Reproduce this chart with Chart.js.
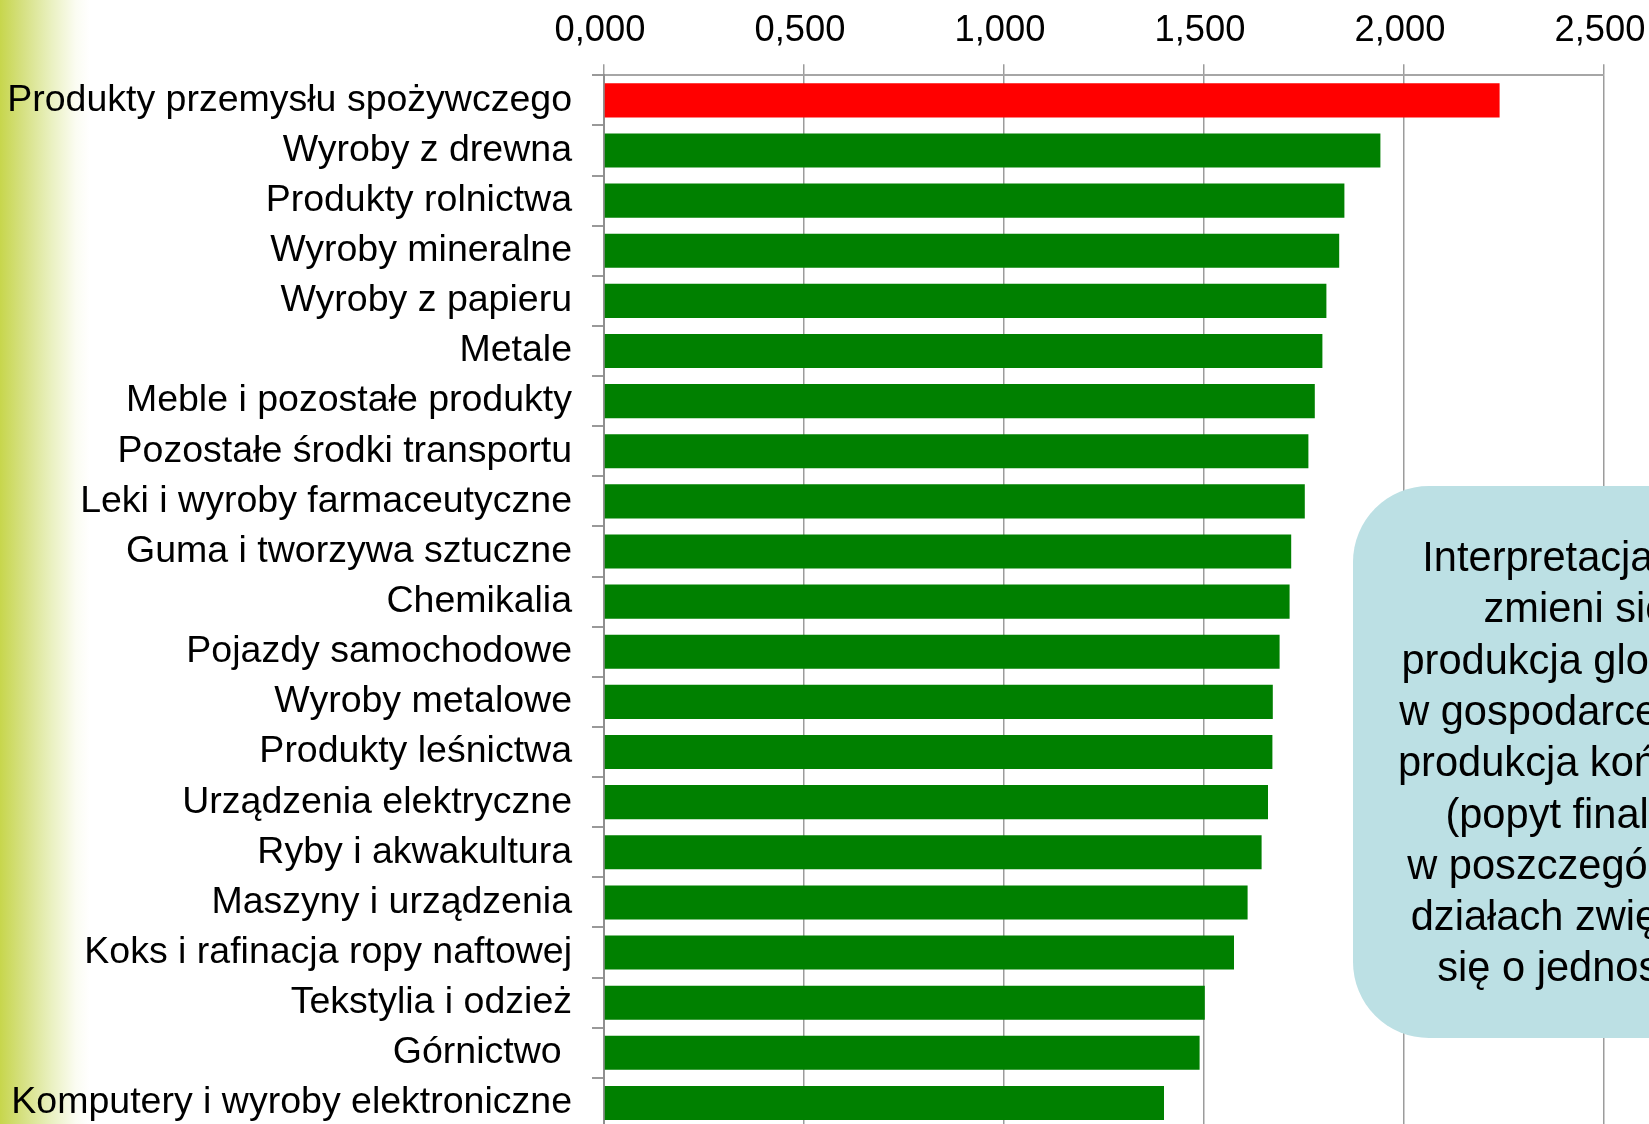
<!DOCTYPE html>
<html lang="pl">
<head>
<meta charset="utf-8">
<title>Mnożniki produkcji globalnej</title>
<script src="https://cdn.jsdelivr.net/npm/chart.js@4.4.1/dist/chart.umd.min.js"></script>
<style>
  html, body { margin: 0; padding: 0; overflow: hidden; }
  body {
    width: 1649px;
    height: 1124px;
    background: linear-gradient(to right, #c7d64c 0px, #d5e080 22px, #eaf1c2 52px, #fbfcf2 76px, #ffffff 90px);
  }
  #wrap { position: absolute; left: 0; top: 0; width: 1649px; height: 1128px; }
</style>
</head>
<body>
<div id="wrap"><canvas id="chart"></canvas></div>
<script>
// Sectors, ordered from the largest multiplier down
const categories = [
  'Produkty przemysłu spożywczego',
  'Wyroby z drewna',
  'Produkty rolnictwa',
  'Wyroby mineralne',
  'Wyroby z papieru',
  'Metale',
  'Meble i pozostałe produkty',
  'Pozostałe środki transportu',
  'Leki i wyroby farmaceutyczne',
  'Guma i tworzywa sztuczne',
  'Chemikalia',
  'Pojazdy samochodowe',
  'Wyroby metalowe',
  'Produkty leśnictwa',
  'Urządzenia elektryczne',
  'Ryby i akwakultura',
  'Maszyny i urządzenia',
  'Koks i rafinacja ropy naftowej',
  'Tekstylia i odzież',
  'Górnictwo ',
  'Komputery i wyroby elektroniczne'
];

// Output multipliers per sector
const multipliers = [
  2.239, 1.941, 1.851, 1.838, 1.806, 1.796, 1.777, 1.761, 1.752, 1.718, 1.714,
  1.689, 1.672, 1.671, 1.660, 1.644, 1.609, 1.575, 1.502, 1.489, 1.400
];

// Value axis labels (Polish decimal comma)
const tickLabels = ['0,000', '0,500', '1,000', '1,500', '2,000', '2,500'];

// Explanatory note shown in the rounded box
const noteLines = [
  'Interpretacja: jak',
  'zmieni się',
  'produkcja globalna',
  'w gospodarce, jeśli',
  'produkcja końcowa',
  '(popyt finalny)',
  'w poszczególnych',
  'działach zwiększy',
  'się o jednostkę'
];

const FONT = '"Liberation Sans", Arial, Helvetica, sans-serif';
const topValue = Math.max(...multipliers);

const notePlugin = {
  id: 'notePlugin',
  afterDraw(chart) {
    const c = chart.ctx;
    const x = 1353, y = 486, w = 446, h = 552, r = 76;
    c.save();
    c.fillStyle = '#bce0e4';
    c.beginPath();
    c.moveTo(x + r, y);
    c.lineTo(x + w - r, y);
    c.arcTo(x + w, y, x + w, y + r, r);
    c.lineTo(x + w, y + h - r);
    c.arcTo(x + w, y + h, x + w - r, y + h, r);
    c.lineTo(x + r, y + h);
    c.arcTo(x, y + h, x, y + h - r, r);
    c.lineTo(x, y + r);
    c.arcTo(x, y, x + r, y, r);
    c.closePath();
    c.fill();
    c.fillStyle = '#000000';
    c.font = '41.6px ' + FONT;
    c.textAlign = 'center';
    c.textBaseline = 'alphabetic';
    noteLines.forEach((line, i) => c.fillText(line, x + w / 2, 571 + i * 51.3));
    c.restore();
  }
};

new Chart(document.getElementById('chart'), {
  type: 'bar',
  data: {
    labels: categories,
    datasets: [{
      data: multipliers,
      backgroundColor: ctx => (ctx.raw === topValue ? '#ff0000' : '#008000'),
      borderWidth: 0,
      barPercentage: 0.68,
      categoryPercentage: 1.0
    }]
  },
  options: {
    indexAxis: 'y',
    responsive: true,
    maintainAspectRatio: false,
    animation: false,
    layout: { padding: { left: 0, right: 45, top: 0, bottom: 0 } },
    plugins: {
      legend: { display: false },
      tooltip: { enabled: false }
    },
    scales: {
      x: {
        position: 'top',
        min: 0,
        max: 2.5,
        afterFit: scale => {
          scale.height = 75.3;
          scale.paddingLeft = 0;
          scale.paddingRight = 0;
        },
        ticks: {
          stepSize: 0.5,
          padding: 11.5,
          labelOffset: -4,
          color: '#000000',
          font: { family: FONT, size: 36.3 },
          maxRotation: 0,
          callback: (value, index) => tickLabels[index]
        },
        grid: {
          color: '#9c9c9c',
          lineWidth: 1.5,
          tickLength: 11,
          drawOnChartArea: true
        },
        border: { display: true, color: '#a6a6a6', width: 2 }
      },
      y: {
        afterFit: scale => {
          scale.width = 604;
          scale.paddingTop = 0;
          scale.paddingBottom = 0;
        },
        ticks: {
          padding: 20,
          color: '#000000',
          font: { family: FONT, size: 37.5 },
          autoSkip: false
        },
        grid: {
          offset: true,
          drawOnChartArea: false,
          color: '#999999',
          lineWidth: 2,
          tickLength: 12
        },
        border: { display: true, color: '#8f8f8f', width: 2 }
      }
    }
  },
  plugins: [notePlugin]
});
</script>
</body>
</html>
